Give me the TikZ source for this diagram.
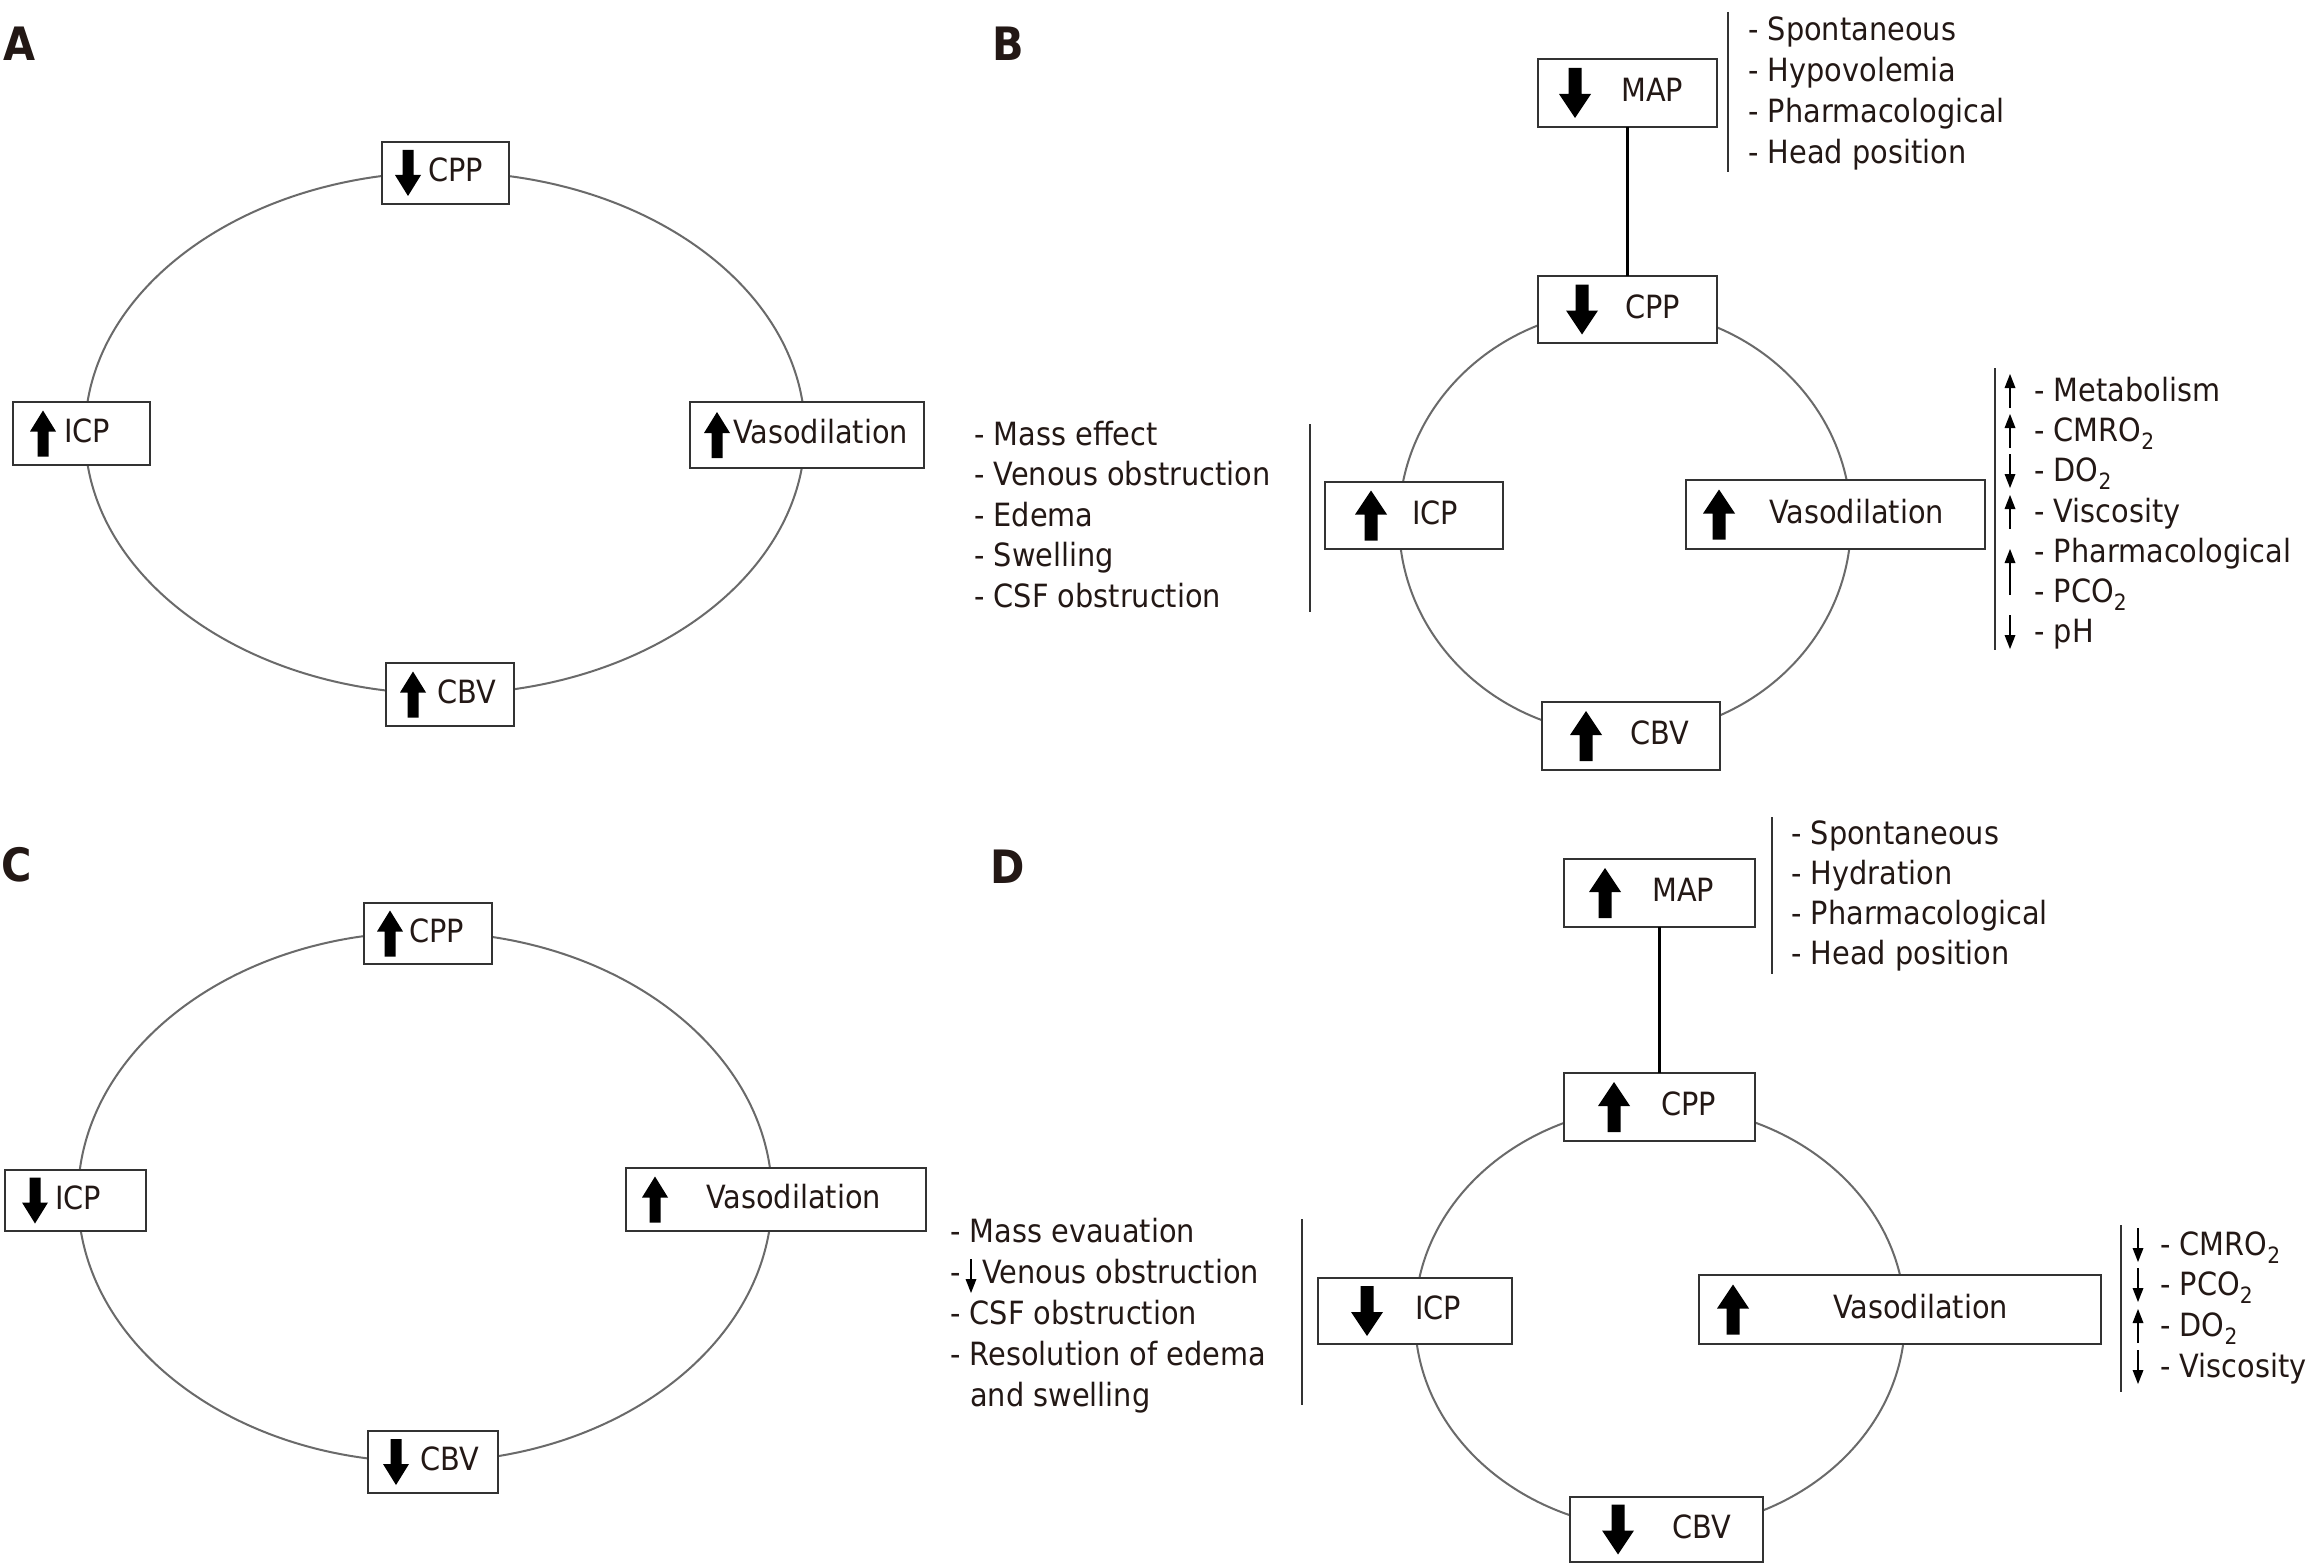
\documentclass[tikz,border=0pt]{standalone}
\usepackage{fontspec}
\setmainfont{DejaVu Sans}[FakeStretch=0.9]
\definecolor{ink}{HTML}{231815}
\definecolor{boxline}{HTML}{333333}
\definecolor{ringline}{HTML}{6A6A6A}
\tikzset{
  box/.style={draw=boxline, line width=2.6, fill=white, inner sep=0, outer sep=0},
  lbl/.style={text=ink, inner sep=0, anchor=mid west, yshift=-6pt, font=\fontsize{32}{38}\selectfont},
  item/.style={text=ink, inner sep=0, anchor=mid west, yshift=-8pt, font=\fontsize{32}{38}\selectfont},
  ring/.style={draw=ringline, line width=2},
  bar/.style={draw=boxline, line width=2.8},
  panel/.style={text=ink, inner sep=0, font=\fontsize{46}{50}\selectfont\bfseries},
  link/.style={draw=black, line width=2.4},
  bigup/.pic={\fill[black] (0,-25)--(16,-1)--(6.5,-1)--(6.5,25)--(-6.5,25)--(-6.5,-1)--(-16,-1)--cycle;},
  bigdown/.pic={\fill[black] (0,25)--(16,1)--(6.5,1)--(6.5,-25)--(-6.5,-25)--(-6.5,1)--(-16,1)--cycle;},
  smup/.pic={\fill[black] (0,-23)--(13,-2)--(5.5,-2)--(5.5,23)--(-5.5,23)--(-5.5,-2)--(-13,-2)--cycle;},
  smdown/.pic={\fill[black] (0,23)--(13,2)--(5.5,2)--(5.5,-23)--(-5.5,-23)--(-5.5,2)--(-13,2)--cycle;},
  thinup/.pic={\draw[black, line width=2] (0,17)--(0,-6); \fill[black] (0,-17)--(5.5,-3)--(-5.5,-3)--cycle;},
  thindown/.pic={\draw[black, line width=2] (0,-17)--(0,6); \fill[black] (0,17)--(5.5,3)--(-5.5,3)--cycle;},
  longup/.pic={\draw[black, line width=2] (0,23)--(0,-10); \fill[black] (0,-23)--(5.5,-9)--(-5.5,-9)--cycle;}
}
\begin{document}
\begin{tikzpicture}[x=1pt,y=-1pt]
\useasboundingbox (0,0) rectangle (2309,1565);
\fill[white] (0,0) rectangle (2309,1565);

% ---------------- Panel A ----------------
\node[panel] (labA) at (20,44) {A};
\draw[ring] (445,433) ellipse [x radius=360, y radius=261];
\node[box, minimum width=127, minimum height=62] (cppA) at (445.5,173) {};
\node[box, minimum width=137, minimum height=63] (icpA) at (81.5,433.5) {};
\node[box, minimum width=234, minimum height=66] (vasA) at (807,435) {};
\node[box, minimum width=128, minimum height=63] (cbvA) at (450,694.5) {};
\pic at (408,173) {smdown};
\node[lbl] (cppAt) at (428,173) {CPP};
\pic at (43,433.5) {smup};
\node[lbl] (icpAt) at (64,433.5) {ICP};
\pic at (717,435) {smup};
\node[lbl] (vasAt) at (733,435) {Vasodilation};
\pic at (413,694.5) {smup};
\node[lbl] (cbvAt) at (437,694.5) {CBV};

% ---------------- Panel B ----------------
\node[panel] (labB) at (1008,44) {B};
\draw[ring] (1625,522) ellipse [x radius=226, y radius=213];
\node[box, minimum width=179, minimum height=68] (mapB) at (1627.5,93) {};
\node[box, minimum width=179, minimum height=67] (cppB) at (1627.5,309.5) {};
\draw[link] (mapB) -- (cppB);
\node[box, minimum width=178, minimum height=67] (icpB) at (1414,515.5) {};
\node[box, minimum width=299, minimum height=69] (vasB) at (1835.5,514.5) {};
\node[box, minimum width=178, minimum height=68] (cbvB) at (1631,736) {};
\pic at (1575,93) {bigdown};
\node[lbl] (mapBt) at (1621,93) {MAP};
\pic at (1582,309.5) {bigdown};
\node[lbl] (cppBt) at (1625,309.5) {CPP};
\pic at (1371,515.5) {bigup};
\node[lbl] (icpBt) at (1412,515.5) {ICP};
\pic at (1719,514.5) {bigup};
\node[lbl] (vasBt) at (1769,514.5) {Vasodilation};
\pic at (1586,736) {bigup};
\node[lbl] (cbvBt) at (1630,736) {CBV};
% top list
\draw[bar] (1728,12) -- (1728,172);
\node[item] (bt1) at (1748,30) {- Spontaneous};
\node[item] (bt2) at (1748,71) {- Hypovolemia};
\node[item] (bt3) at (1748,112) {- Pharmacological};
\node[item] (bt4) at (1748,153) {- Head position};
% left list
\draw[bar] (1310,424) -- (1310,612);
\node[item] (bl1) at (974,435) {- Mass effect};
\node[item] (bl2) at (974,475) {- Venous obstruction};
\node[item] (bl3) at (974,516) {- Edema};
\node[item] (bl4) at (974,556) {- Swelling};
\node[item] (bl5) at (974,597) {- CSF obstruction};
% right list
\draw[bar] (1995,368) -- (1995,650);
\pic at (2010,391) {thinup};
\pic at (2010,431) {thinup};
\pic at (2010,471) {thindown};
\pic at (2010,512) {thinup};
\pic at (2010,572) {longup};
\pic at (2010,632) {thindown};
\node[item] (br1) at (2034,391) {- Metabolism};
\node[item] (br2) at (2034,431) {- CMRO\textsubscript{2}};
\node[item] (br3) at (2034,471) {- DO\textsubscript{2}};
\node[item] (br4) at (2034,512) {- Viscosity};
\node[item] (br5) at (2034,552) {- Pharmacological};
\node[item] (br6) at (2034,592) {- PCO\textsubscript{2}};
\node[item] (br7) at (2034,632) {- pH};

% ---------------- Panel C ----------------
\node[panel] (labC) at (17,865) {C};
\draw[ring] (425,1197) ellipse [x radius=347, y radius=265];
\node[box, minimum width=128, minimum height=61] (cppC) at (428,933.5) {};
\node[box, minimum width=141, minimum height=61] (icpC) at (75.5,1200.5) {};
\node[box, minimum width=300, minimum height=63] (vasC) at (776,1199.5) {};
\node[box, minimum width=130, minimum height=62] (cbvC) at (433,1462) {};
\pic at (390,933.5) {smup};
\node[lbl] (cppCt) at (409,933.5) {CPP};
\pic at (35,1200.5) {smdown};
\node[lbl] (icpCt) at (55,1200.5) {ICP};
\pic at (655,1199.5) {smup};
\node[lbl] (vasCt) at (706,1199.5) {Vasodilation};
\pic at (396,1462) {smdown};
\node[lbl] (cbvCt) at (420,1462) {CBV};

% ---------------- Panel D ----------------
\node[panel] (labD) at (1008,867) {D};
\draw[ring] (1660,1318) ellipse [x radius=245, y radius=212];
\node[box, minimum width=191, minimum height=68] (mapD) at (1659.5,893) {};
\node[box, minimum width=191, minimum height=68] (cppD) at (1659.5,1107) {};
\draw[link] (mapD) -- (cppD);
\node[box, minimum width=194, minimum height=66] (icpD) at (1415,1311) {};
\node[box, minimum width=402, minimum height=69] (vasD) at (1900,1309.5) {};
\node[box, minimum width=193, minimum height=65] (cbvD) at (1666.5,1529.5) {};
\pic at (1605,893) {bigup};
\node[lbl] (mapDt) at (1652,893) {MAP};
\pic at (1614,1107) {bigup};
\node[lbl] (cppDt) at (1661,1107) {CPP};
\pic at (1367,1311) {bigdown};
\node[lbl] (icpDt) at (1415,1311) {ICP};
\pic at (1733,1309.5) {bigup};
\node[lbl] (vasDt) at (1833,1309.5) {Vasodilation};
\pic at (1618,1529.5) {bigdown};
\node[lbl] (cbvDt) at (1672,1529.5) {CBV};
% top list
\draw[bar] (1772,817) -- (1772,974);
\node[item] (dt1) at (1791,834) {- Spontaneous};
\node[item] (dt2) at (1791,874) {- Hydration};
\node[item] (dt3) at (1791,914) {- Pharmacological};
\node[item] (dt4) at (1791,954) {- Head position};
% left list
\draw[bar] (1302,1219) -- (1302,1405);
\node[item] (dl1) at (950,1232) {- Mass evauation};
\node[item] (dl2a) at (950,1273) {-};
\pic at (971,1276) {thindown};
\node[item] (dl2b) at (982,1273) {Venous obstruction};
\node[item] (dl3) at (950,1314) {- CSF obstruction};
\node[item] (dl4) at (950,1355) {- Resolution of edema};
\node[item] (dl5) at (970,1396) {and swelling};
% right list
\draw[bar] (2121,1225) -- (2121,1392);
\pic at (2138,1245) {thindown};
\pic at (2138,1285) {thindown};
\pic at (2138,1326) {thinup};
\pic at (2138,1367) {thindown};
\node[item] (dr1) at (2160,1245) {- CMRO\textsubscript{2}};
\node[item] (dr2) at (2160,1285) {- PCO\textsubscript{2}};
\node[item] (dr3) at (2160,1326) {- DO\textsubscript{2}};
\node[item] (dr4) at (2160,1367) {- Viscosity};
\end{tikzpicture}
\end{document}
